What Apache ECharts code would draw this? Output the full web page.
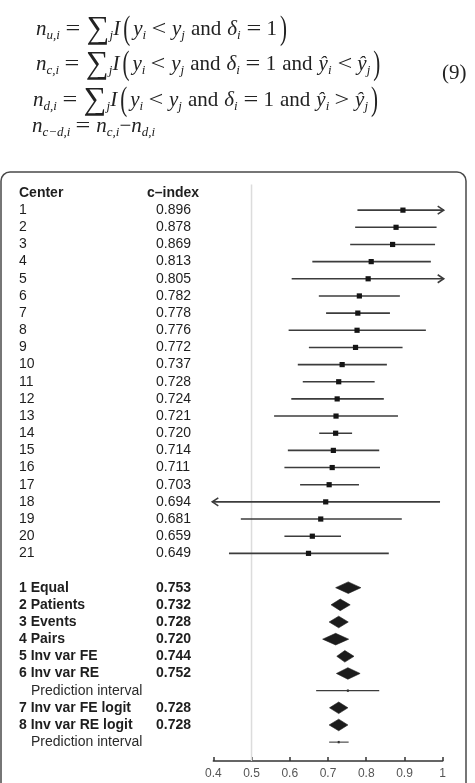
<!DOCTYPE html>
<html>
<head>
<meta charset="utf-8">
<title>c-index forest plot</title>
<script src="https://cdn.jsdelivr.net/npm/echarts@6/dist/echarts.min.js"></script>
<style>
  html, body { margin: 0; padding: 0; background: #fff; }
  #wrap { position: relative; width: 475px; height: 783px; overflow: hidden; }
  #chart { position: absolute; left: 0; top: 0; width: 475px; height: 783px; }
  .eq {
    position: absolute;
    font-family: 'Liberation Serif', 'DejaVu Serif', serif;
    font-size: 21px;
    color: #222;
    white-space: nowrap;
    line-height: 22px;
  }
  .eq sub { font-size: 13px; vertical-align: -4px; line-height: 0; }
  .eq .op { display: inline-block; margin: 0 7px; transform: scaleX(1.25); }
  .eq .w { margin: 0 6px; }
  .eq .sum { font-size: 32px; vertical-align: -3px; margin-left: 1px; }
  .eq .par { display: inline-block; font-size: 21px; transform: scaleY(1.6); margin: 0 3px; }
</style>
</head>
<body>
<div id="wrap">
  <div id="chart"></div>
  <div class="eq" style="left:36px;top:16px"><i>n</i><sub><i>u,i</i></sub><span class="op">=</span><span class="sum">&sum;</span><sub><i>j</i></sub><i>I</i><span class="par">(</span><i>y</i><sub><i>i</i></sub><span class="op">&lt;</span><i>y</i><sub><i>j</i></sub><span class="w">and</span><i>&delta;</i><sub><i>i</i></sub><span class="op">=</span>1<span class="par">)</span></div>
  <div class="eq" style="left:36px;top:51px"><i>n</i><sub><i>c,i</i></sub><span class="op">=</span><span class="sum">&sum;</span><sub><i>j</i></sub><i>I</i><span class="par">(</span><i>y</i><sub><i>i</i></sub><span class="op">&lt;</span><i>y</i><sub><i>j</i></sub><span class="w">and</span><i>&delta;</i><sub><i>i</i></sub><span class="op">=</span>1<span class="w">and</span><i>&ycirc;</i><sub><i>i</i></sub><span class="op">&lt;</span><i>&ycirc;</i><sub><i>j</i></sub><span class="par">)</span></div>
  <div class="eq" style="left:442px;top:61px">(9)</div>
  <div class="eq" style="left:33px;top:87px"><i>n</i><sub><i>d,i</i></sub><span class="op">=</span><span class="sum">&sum;</span><sub><i>j</i></sub><i>I</i><span class="par">(</span><i>y</i><sub><i>i</i></sub><span class="op">&lt;</span><i>y</i><sub><i>j</i></sub><span class="w">and</span><i>&delta;</i><sub><i>i</i></sub><span class="op">=</span>1<span class="w">and</span><i>&ycirc;</i><sub><i>i</i></sub><span class="op">&gt;</span><i>&ycirc;</i><sub><i>j</i></sub><span class="par">)</span></div>
  <div class="eq" style="left:32px;top:114px"><i>n</i><sub><i>c&minus;d,i</i></sub><span class="op">=</span><i>n</i><sub><i>c,i</i></sub>&minus;<i>n</i><sub><i>d,i</i></sub></div>
</div>
<script>
// column headers
const headers = ['Center', 'c\u2013index'];

// per-centre c-index with 95% CI (values past the axis get an arrow)
const centerLabels = ['1', '2', '3', '4', '5', '6', '7', '8', '9', '10', '11',
  '12', '13', '14', '15', '16', '17', '18', '19', '20', '21'];
const centerEst = [0.896, 0.878, 0.869, 0.813, 0.805, 0.782, 0.778, 0.776, 0.772, 0.737, 0.728,
  0.724, 0.721, 0.720, 0.714, 0.711, 0.703, 0.694, 0.681, 0.659, 0.649];
const centerLow = [0.777, 0.771, 0.758, 0.659, 0.605, 0.676, 0.695, 0.597, 0.650, 0.621, 0.634,
  0.604, 0.559, 0.677, 0.595, 0.586, 0.627, 0.380, 0.472, 0.586, 0.441];
const centerHigh = [1.020, 0.984, 0.980, 0.969, 1.020, 0.888, 0.862, 0.956, 0.895, 0.854, 0.822,
  0.846, 0.883, 0.763, 0.834, 0.836, 0.781, 0.993, 0.893, 0.734, 0.859];

// pooled estimates ('d' = diamond, 'p' = prediction interval)
const pooledLabels = ['1 Equal', '2 Patients', '3 Events', '4 Pairs', '5 Inv var FE', '6 Inv var RE',
  'Prediction interval', '7 Inv var FE logit', '8 Inv var RE logit', 'Prediction interval'];
const pooledKind = ['d', 'd', 'd', 'd', 'd', 'd', 'p', 'd', 'd', 'p'];
const pooledEst = [0.753, 0.732, 0.728, 0.720, 0.744, 0.752, 0.752, 0.728, 0.728, 0.728];
const pooledLow = [0.720, 0.708, 0.703, 0.686, 0.723, 0.722, 0.669, 0.704, 0.703, 0.703];
const pooledHigh = [0.786, 0.758, 0.753, 0.754, 0.768, 0.784, 0.834, 0.752, 0.752, 0.754];

const xTicks = [0.4, 0.5, 0.6, 0.7, 0.8, 0.9, 1];
const refValue = 0.5;

const X_MIN = 0.4, X_MAX = 1;
const FONT = "'Liberation Sans', Arial, Helvetica, sans-serif";
const LABEL_X = 19, VALUE_X = 156, HEAD_VALUE_X = 147, PI_LABEL_X = 31;
const firstPooledRow = centerLabels.length + 2;
const lastRow = firstPooledRow + pooledLabels.length;

const chart = echarts.init(document.getElementById('chart'));

function txt(x, y, text, bold, color) {
  return {
    type: 'text',
    style: {
      x: x, y: y, text: text,
      font: (bold ? 'bold ' : '') + '14px ' + FONT,
      fill: color || '#1e1e1e',
      verticalAlign: 'middle', align: 'left'
    }
  };
}

function ciLine(api, low, high, y, width) {
  const x0 = api.coord([Math.max(low, X_MIN), 0])[0];
  const x1 = api.coord([Math.min(high, X_MAX), 0])[0];
  const out = [{
    type: 'line',
    shape: { x1: low < X_MIN ? x0 - 1 : x0, y1: y, x2: high > X_MAX ? x1 + 1 : x1, y2: y },
    style: { stroke: '#3c3c3c', lineWidth: width }
  }];
  if (high > X_MAX) {
    const t = x1 + 1;
    out.push({ type: 'polyline', shape: { points: [[t - 6, y - 4], [t, y], [t - 6, y + 4]] },
      style: { stroke: '#3c3c3c', lineWidth: width, fill: null } });
  }
  if (low < X_MIN) {
    const t = x0 - 1;
    out.push({ type: 'polyline', shape: { points: [[t + 6, y - 4], [t, y], [t + 6, y + 4]] },
      style: { stroke: '#3c3c3c', lineWidth: width, fill: null } });
  }
  return out;
}

// rows: [est, row, low, high, index, group]
const rows = [];
rows.push([NaN, 0, NaN, NaN, 0, 'head']);
centerLabels.forEach((c, i) => rows.push([centerEst[i], i + 1, centerLow[i], centerHigh[i], i, 'center']));
pooledLabels.forEach((c, i) => rows.push([pooledEst[i], firstPooledRow + i, pooledLow[i], pooledHigh[i], i, 'pooled']));

function renderRow(params, api) {
  const d = rows[params.dataIndex];
  const y = api.coord([X_MIN, d[1]])[1];
  const children = [];
  if (d[5] === 'head') {
    children.push(txt(LABEL_X, y, headers[0], true));
    children.push(txt(HEAD_VALUE_X, y, headers[1], true));
  } else if (d[5] === 'center') {
    const i = d[4];
    children.push(txt(LABEL_X, y, centerLabels[i], false));
    children.push(txt(VALUE_X, y, centerEst[i].toFixed(3), false));
    children.push.apply(children, ciLine(api, d[2], d[3], y, 1.6));
    const px = api.coord([d[0], 0])[0];
    children.push({ type: 'rect', shape: { x: px - 2.6, y: y - 2.6, width: 5.2, height: 5.2 },
      style: { fill: '#151515' } });
  } else {
    const i = d[4];
    if (pooledKind[i] === 'd') {
      children.push(txt(LABEL_X, y, pooledLabels[i], true));
      children.push(txt(VALUE_X, y, pooledEst[i].toFixed(3), true));
      const xl = api.coord([d[2], 0])[0], xe = api.coord([d[0], 0])[0], xh = api.coord([d[3], 0])[0];
      children.push({ type: 'polygon',
        shape: { points: [[xl, y], [xe, y - 5.8], [xh, y], [xe, y + 5.8]] },
        style: { fill: '#1c1c1c', stroke: '#1c1c1c', lineWidth: 0.6 } });
    } else {
      children.push(txt(PI_LABEL_X, y, pooledLabels[i], false, '#2a2a2a'));
      children.push.apply(children, ciLine(api, d[2], d[3], y, 1.1));
      const px = api.coord([d[0], 0])[0];
      children.push({ type: 'rect', shape: { x: px - 1, y: y - 1.2, width: 2, height: 2.4 },
        style: { fill: '#333' } });
    }
  }
  return { type: 'group', children: children };
}

const option = {
  animation: false,
  backgroundColor: 'transparent',
  graphic: [{
    type: 'rect', z: -10, silent: true,
    shape: { x: 1, y: 172, width: 465, height: 660, r: 9 },
    style: { fill: '#fff', stroke: '#4a4a4a', lineWidth: 1.5 }
  }],
  grid: { left: 213.3, right: 32.3, top: 184.4, bottom: 22 },
  xAxis: {
    type: 'value', min: X_MIN, max: X_MAX, interval: 0.1,
    splitLine: { show: false },
    axisLine: { show: true, onZero: false, lineStyle: { color: '#333', width: 1.5 } },
    axisTick: { show: true, inside: true, length: 4, lineStyle: { color: '#333', width: 1.5 } },
    axisLabel: {
      margin: 7, color: '#555', fontSize: 12, fontFamily: FONT,
      formatter: v => {
        const hit = xTicks.find(t => Math.abs(t - v) < 1e-6);
        return hit === undefined ? '' : String(hit);
      }
    }
  },
  yAxis: { type: 'value', inverse: true, min: -0.5, max: lastRow + 0.1, show: false },
  series: [
    {
      type: 'line', silent: true, symbol: 'none', z: 1,
      lineStyle: { color: '#dcdcdc', width: 1.5 },
      data: [[refValue, -0.5], [refValue, lastRow + 0.1]]
    },
    {
      type: 'custom', clip: false, silent: true, z: 5,
      renderItem: renderRow,
      encode: { x: 0, y: 1 },
      data: rows
    }
  ]
};

chart.setOption(option);
</script>
</body>
</html>
